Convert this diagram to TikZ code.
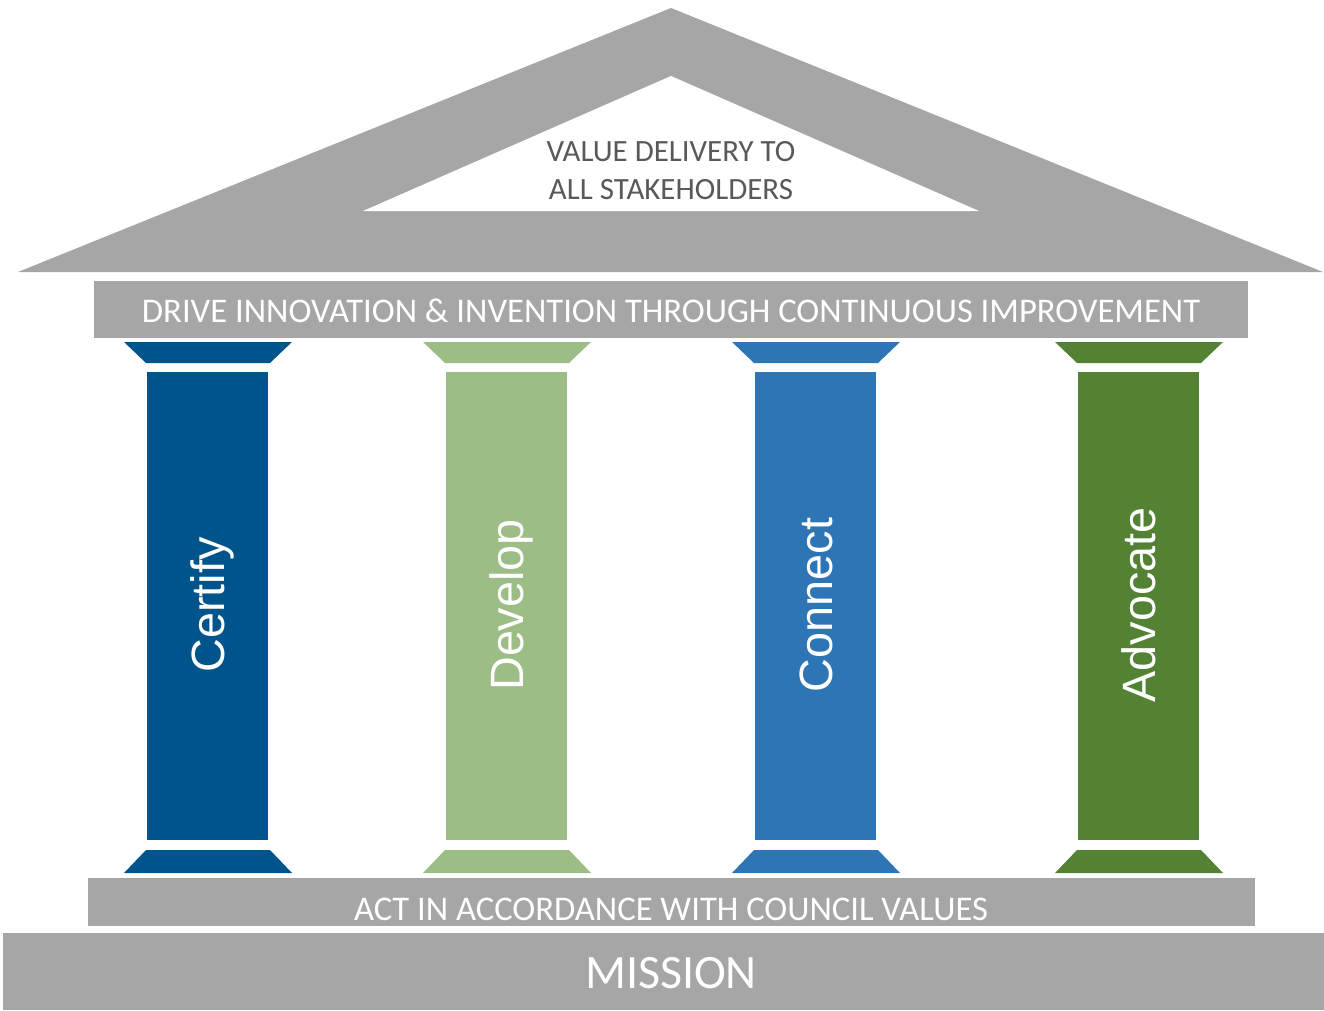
\documentclass[tikz,border=0pt]{standalone}
\usepackage{fontspec}
\setmainfont{Carlito}
\newfontfamily\pillarfont{Liberation Sans}
\definecolor{roofgray}{HTML}{A6A6A6}
\definecolor{darktext}{HTML}{595959}
\definecolor{cdarkblue}{RGB}{0,84,140}
\definecolor{clightgreen}{RGB}{157,189,134}
\definecolor{cblue}{HTML}{2E75B6}
\definecolor{cgreen}{HTML}{548235}
\begin{document}
\begin{tikzpicture}[x=0.02cm,y=-0.02cm,
  bandtext/.style={text=white,anchor=base,inner sep=0pt,font=\fontsize{19.7}{23}\selectfont},
  rooftext/.style={text=darktext,anchor=base,inner sep=0pt,font=\fontsize{17.6}{21}\selectfont},
  pillartext/.style={text=white,anchor=base,inner sep=0pt,rotate=90,font=\pillarfont\fontsize{26.6}{30}\selectfont}]
\useasboundingbox (0,0) rectangle (1324,1010);
% roof
\fill[roofgray] (671,8) -- (1323,272) -- (18,272) -- cycle;
\fill[white] (671,76) -- (979,211) -- (363,211) -- cycle;
\node[rooftext] (roof1) at (671,162) {VALUE DELIVERY TO};
\node[rooftext] (roof2) at (671,199) {ALL STAKEHOLDERS};
% top band
\fill[roofgray] (94,281) rectangle (1248,338);
\node[bandtext] (topband) at (671,322) {DRIVE INNOVATION \& INVENTION THROUGH CONTINUOUS IMPROVEMENT};
% pillars
\foreach \xl/\col/\txt/\nm in {147/cdarkblue/Certify/certify,446/clightgreen/Develop/develop,755/cblue/Connect/connect,1078/cgreen/Advocate/advocate}{
  \fill[\col] (\xl-23,342) -- (\xl+145,342) -- (\xl+123,363) -- (\xl-1,363) -- cycle;
  \fill[\col] (\xl,372) rectangle (\xl+121,840);
  \fill[\col] (\xl-1,850) -- (\xl+123,850) -- (\xl+145,873) -- (\xl-23,873) -- cycle;
  \node[pillartext] (\nm) at (\xl+77,605) {\txt};
}
% bottom band
\fill[roofgray] (88,878) rectangle (1255,926);
\node[bandtext] (values) at (671,920) {ACT IN ACCORDANCE WITH COUNCIL VALUES};
% mission
\fill[roofgray] (3,933) rectangle (1324,1010);
\node[bandtext,font=\fontsize{27.3}{32}\selectfont] (mission) at (671,988) {MISSION};
\end{tikzpicture}
\end{document}
